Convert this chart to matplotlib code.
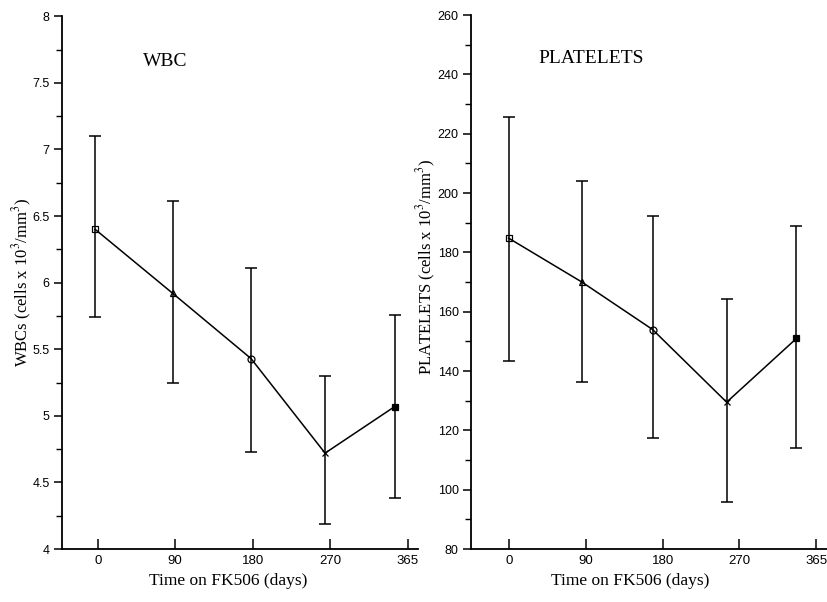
import matplotlib
matplotlib.use("Agg")
import matplotlib.pyplot as plt

# ---- data ----
tick_pos = [0, 90, 180, 270, 360]
tick_labels = ["0", "90", "180", "270", "365"]
markers = ["s", "^", "o", "x", "s"]
marker_fill = ["none", "none", "none", "black", "black"]

wbc_days = [-3, 87, 178, 264, 345]
wbc_mean = [6.40, 5.92, 5.43, 4.72, 5.07]
wbc_upper = [7.10, 6.61, 6.11, 5.30, 5.76]
wbc_lower = [5.74, 5.25, 4.73, 4.19, 4.38]

plt_days = [-1, 85, 168, 255, 337]
plt_mean = [184.8, 170.0, 154.0, 129.5, 151.0]
plt_upper = [225.6, 204.0, 192.2, 164.3, 188.8]
plt_lower = [143.3, 136.2, 117.5, 96.0, 114.0]

plt.rcParams["mathtext.fontset"] = "stix"
serif = "Liberation Serif"
sans = "Liberation Sans"

fig = plt.figure(figsize=(8.28, 6.02), dpi=100)
ax1 = fig.add_axes([0.0749, 0.088, 0.430, 0.885])
ax2 = fig.add_axes([0.569, 0.088, 0.431, 0.887])


def panel(ax, days, mean, upper, lower, ylim, yticks, ylabels, minor, title, tpos,
          ylabel, xlim, ylab_xy, xlab_x):
    yerr = [[m - l for m, l in zip(mean, lower)], [u - m for u, m in zip(upper, mean)]]
    ax.errorbar(days, mean, yerr=yerr, fmt="none", ecolor="black", elinewidth=1.1,
                capsize=4.5, capthick=1.1)
    ax.plot(days, mean, color="black", lw=1.1)
    for x, y, m, f in zip(days, mean, markers, marker_fill):
        ax.plot([x], [y], marker=m, ms=5, mfc=f, mec="black", mew=0.9, color="black")
    ax.set_ylim(*ylim)
    ax.set_xlim(*xlim)
    for s in ("top", "right"):
        ax.spines[s].set_visible(False)
    ax.spines["left"].set_linewidth(1.3)
    ax.spines["bottom"].set_linewidth(1.3)
    ax.set_yticks(yticks)
    ax.set_yticklabels(ylabels, fontfamily=sans, fontsize=9)
    ax.set_yticks(minor, minor=True)
    ax.tick_params(axis="y", which="major", direction="out", length=6, width=1.1, pad=3)
    ax.tick_params(axis="y", which="minor", direction="out", length=4, width=1.0)
    ax.set_xticks(tick_pos)
    ax.set_xticklabels(tick_labels, fontfamily=sans, fontsize=9.5)
    ax.tick_params(axis="x", direction="in", length=7, width=1.1, pad=4)
    ax.text(tpos[0], tpos[1], title, transform=ax.transAxes, fontfamily=serif,
            fontsize=14, ha="center", va="center")
    ax.set_xlabel("Time on FK506 (days)", fontfamily=serif, fontsize=12.5)
    ax.xaxis.set_label_coords(xlab_x, -0.045)
    ax.set_ylabel(ylabel, fontfamily=serif, fontsize=12)
    ax.yaxis.set_label_coords(*ylab_xy)


panel(ax1, wbc_days, wbc_mean, wbc_upper, wbc_lower, (4, 8),
      [4, 4.5, 5, 5.5, 6, 6.5, 7, 7.5, 8],
      ["4", "4.5", "5", "5.5", "6", "6.5", "7", "7.5", "8"],
      [4.25, 4.75, 5.25, 5.75, 6.25, 6.75, 7.25, 7.75],
      "WBC", (0.29, 0.915), r"WBCs (cells x 10$^{3}$/mm$^{3}$)", (-41.5, 372),
      (-0.08, 0.50), 0.466)

panel(ax2, plt_days, plt_mean, plt_upper, plt_lower, (80, 260),
      [80, 100, 120, 140, 160, 180, 200, 220, 240, 260],
      ["80", "100", "120", "140", "160", "180", "200", "220", "240", "260"],
      [90, 110, 130, 150, 170, 190, 210, 230, 250],
      "PLATELETS", (0.335, 0.918), r"PLATELETS (cells x 10$^{3}$/mm$^{3}$)", (-45, 374),
      (-0.093, 0.528), 0.445)

fig.savefig("out.png", dpi=100)
